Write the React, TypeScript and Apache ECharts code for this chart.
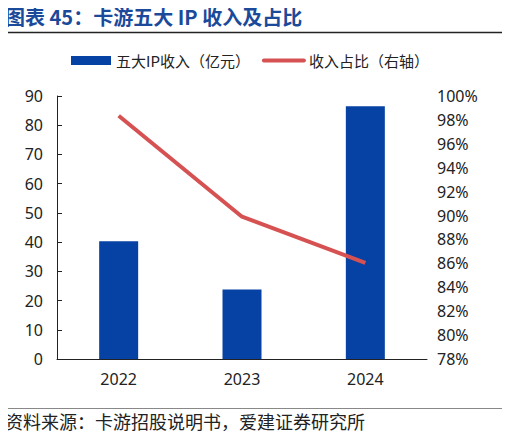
import { useEffect, useRef } from 'react';
import * as echarts from 'echarts';

const years = ['2022', '2023', '2024'];
const revenue = [40.3, 23.8, 86.5];
const share = [98.35, 89.9, 86.05];
const titleText = '图表 45：卡游五大 IP 收入及占比';
const sourceText = '资料来源：卡游招股说明书，爱建证券研究所';

const FONT = '"Noto Sans", "Noto Sans CJK SC", sans-serif';

export default function App() {
  const ref = useRef<HTMLDivElement>(null);

  useEffect(() => {
    if (!ref.current) return;
    const chart = echarts.init(ref.current, null, { renderer: 'svg' });
    chart.setOption({
      animation: false,
      textStyle: { fontFamily: FONT },
      graphic: [
        {
          type: 'text', left: 5, top: 6,
          style: { text: titleText, fill: '#1B4A9A', font: `bold 20px "Noto Sans CJK SC", sans-serif` },
        },
        { type: 'line', shape: { x1: 5, y1: 32.5, x2: 505, y2: 32.5 }, style: { stroke: '#222', lineWidth: 1.5 } },
        { type: 'line', shape: { x1: 5, y1: 408.5, x2: 505, y2: 408.5 }, style: { stroke: '#888', lineWidth: 1 } },
        {
          type: 'text', left: 5, top: 412,
          style: { text: sourceText, fill: '#222', font: `18px "Noto Sans CJK SC", sans-serif` },
        },
      ],
      legend: {
        top: 53,
        left: 71,
        padding: 0,
        itemGap: 12,
        textStyle: { fontSize: 15, color: '#222', fontFamily: '"Noto Sans CJK SC", sans-serif' },
        data: [
          { name: '五大IP收入（亿元）', icon: 'rect', itemStyle: { color: '#0642A3' } },
          { name: '收入占比（右轴）', itemStyle: { opacity: 0 }, lineStyle: { color: '#D65252', width: 4, cap: 'round' } },
        ],
        itemWidth: 40,
        itemHeight: 9,
      },
      grid: { left: 57, right: 83, top: 96, bottom: 80 },
      xAxis: {
        type: 'category',
        data: years,
        axisTick: { show: false },
        axisLine: { lineStyle: { color: '#222', width: 1 } },
        axisLabel: { color: '#222', fontSize: 16, margin: 12 },
      },
      yAxis: [
        {
          type: 'value', min: 0, max: 90, interval: 10,
          axisLine: { show: true, lineStyle: { color: '#222', width: 1 } },
          axisTick: { show: true, inside: true, length: 5, lineStyle: { color: '#222' } },
          splitLine: { show: false },
          axisLabel: { color: '#222', fontSize: 16, margin: 14 },
        },
        {
          type: 'value', min: 78, max: 100, interval: 2, position: 'right',
          axisLine: { show: false },
          axisTick: { show: false },
          splitLine: { show: false },
          axisLabel: { color: '#222', fontSize: 16, margin: 10, formatter: '{value}%' },
        },
      ],
      series: [
        {
          name: '五大IP收入（亿元）',
          type: 'bar',
          data: revenue,
          barWidth: 39,
          itemStyle: { color: '#0642A3' },
        },
        {
          name: '收入占比（右轴）',
          type: 'line',
          yAxisIndex: 1,
          data: share,
          symbol: 'none',
          lineStyle: { color: '#D65252', width: 4 },
          itemStyle: { color: '#D65252' },
        },
      ],
    });
    return () => chart.dispose();
  }, []);

  return <div ref={ref} style={{ width: 510, height: 439, margin: -8 }} />;
}
